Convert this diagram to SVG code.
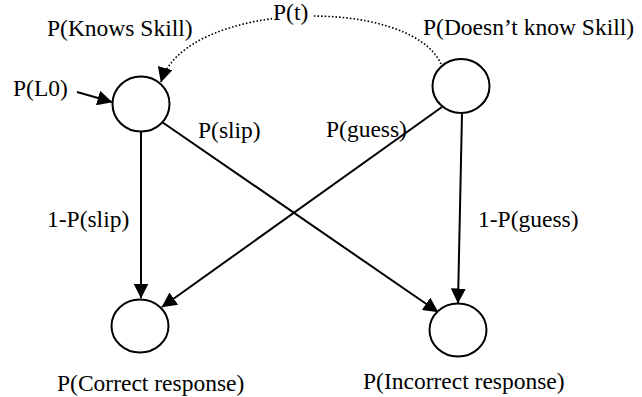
<svg xmlns="http://www.w3.org/2000/svg" width="642" height="397" viewBox="0 0 642 397">
<style>
.t{font-family:'Liberation Serif','Times New Roman',serif;font-size:23.5px;fill:#000}
.node{fill:#fff;stroke:#000;stroke-width:2}
.edge{fill:none;stroke:#000;stroke-width:2}
.dot{fill:none;stroke:#000;stroke-width:1.6;stroke-dasharray:1.6 2}
</style>
<defs>
<marker id="ah" markerUnits="userSpaceOnUse" markerWidth="16" markerHeight="15" refX="14.5" refY="7.5" orient="auto">
<path d="M0,0 L15,7.5 L0,15 z" fill="#000"/>
</marker>
</defs>
<rect width="642" height="397" fill="#fff"/>
<g id="connectors">
<path class="dot" d="M441,64 C410,-5 185,0 161,82" marker-end="url(#ah)"/>
<line class="edge" x1="77" y1="92" x2="112" y2="102" marker-end="url(#ah)"/>
<line class="edge" x1="141" y1="132" x2="141" y2="298" marker-end="url(#ah)"/>
<line class="edge" x1="162" y1="122" x2="438" y2="312" marker-end="url(#ah)"/>
<line class="edge" x1="442" y1="107" x2="162" y2="307" marker-end="url(#ah)"/>
<line class="edge" x1="462" y1="113" x2="458" y2="303" marker-end="url(#ah)"/>
</g>
<g id="knows">
<ellipse class="node" cx="141" cy="104" rx="28.5" ry="27.5"/>
<text class="t" x="47" y="36">P(Knows Skill)</text>
</g>
<g id="notknows">
<ellipse class="node" cx="461" cy="86" rx="28.5" ry="27"/>
<text class="t" x="423" y="35">P(Doesn’t know Skill)</text>
</g>
<g id="correct">
<ellipse class="node" cx="140" cy="326" rx="28.5" ry="26.5"/>
<text class="t" x="57" y="391">P(Correct response)</text>
</g>
<g id="incorrect">
<ellipse class="node" cx="458" cy="330" rx="28.5" ry="26.5"/>
<text class="t" x="363" y="389">P(Incorrect response)</text>
</g>
<g id="labels">
<rect x="272" y="2" width="40" height="22" fill="#fff"/>
<text class="t" x="273" y="20">P(t)</text>
<text class="t" x="13" y="96">P(L0)</text>
<text class="t" x="198" y="138">P(slip)</text>
<text class="t" x="326" y="137">P(guess)</text>
<text class="t" x="47" y="227">1-P(slip)</text>
<text class="t" x="478" y="227">1-P(guess)</text>
</g>
</svg>
